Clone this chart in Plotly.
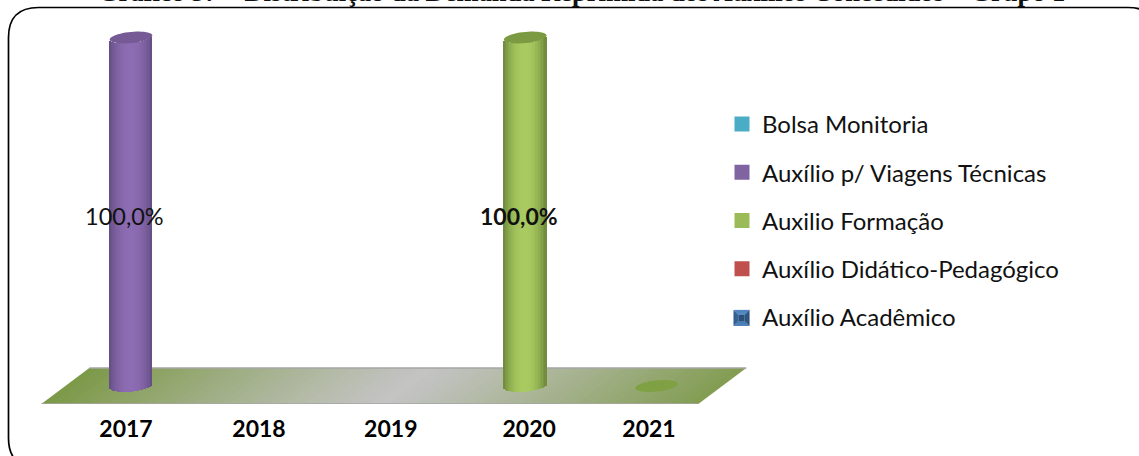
import math
import plotly.graph_objects as go

# ---- data ----
years = [2017, 2018, 2019, 2020, 2021]
bolsa_monitoria = [None, None, None, None, None]
viagens_tecnicas = [100, None, None, None, None]
auxilio_formacao = [None, None, None, 100, 0]
didatico_pedagogico = [None, None, None, None, None]
auxilio_academico = [None, None, None, None, None]
title_text = "Gráfico 37 – Distribuição da Demanda Reprimida dos Auxílios Concedidos – Grupo 1"
label_100 = "100,0%"

# ---- style ----
FONT = "Lato"
series = [
    ("Bolsa Monitoria", bolsa_monitoria, "#4bacc6", None),
    ("Auxílio p/ Viagens Técnicas", viagens_tecnicas, "#8064a2", ((0x64, 0x4e, 0x82), (0x8c, 0x6c, 0xb2), "#755a95", "#755a95")),
    ("Auxilio Formação", auxilio_formacao, "#9bbb59", ((0x6c, 0x88, 0x3a), (0xa8, 0xca, 0x60), "#7b9a42", "#80a044")),
    ("Auxílio Didático-Pedagógico", didatico_pedagogico, "#c0504d", None),
    ("Auxílio Acadêmico", auxilio_academico, "rgba(63,111,163,0.25)", None),
]
YSCALE = 3.485        # px per value unit
XSCALE = 131.4        # px per year
HALF_W = 21.3 / XSCALE
RY = 5.6 / YSCALE
TILT = 2.0 / YSCALE
SKEW = 24 / XSCALE
FLOOR_H = 18 / YSCALE
N = 28


def mix(a, b, f):
    return "rgb(%d,%d,%d)" % tuple(round(a[i] + (b[i] - a[i]) * f) for i in range(3))


def rim(t, sign):
    return sign * RY * math.sqrt(max(0, 1 - t * t)) + TILT * t


def ellipse_path(cx, cy):
    pts = []
    for i in range(48):
        a = 2 * math.pi * i / 48
        t = math.cos(a)
        pts.append((cx + HALF_W * t, cy + RY * math.sin(a) + TILT * t))
    return "M" + "L".join(f"{x:.4f},{y:.4f}" for x, y in pts) + "Z"


fig = go.Figure()
shapes = []

# floor
x0, x1 = years[0] - 0.5, years[-1] + 0.5
grey, green = (0xc4, 0xc4, 0xc4), (0x7c, 0x99, 0x47)
FL = 70
for i in range(FL):
    a = x0 + (x1 - x0) * i / FL
    b = min(x0 + (x1 - x0) * (i + 1.3) / FL, x1)
    f = min(1, (abs((i + 0.5) / FL - 0.52) / 0.52) ** 1.1)
    shapes.append(dict(type="path", layer="below", xref="x", yref="y",
                       path=f"M{a-SKEW},{-FLOOR_H}L{b-SKEW},{-FLOOR_H}L{b+SKEW},{FLOOR_H}L{a+SKEW},{FLOOR_H}Z",
                       fillcolor=mix(grey, green, f), line=dict(width=0)))
for yy, sk in ((-FLOOR_H, -SKEW), (FLOOR_H, SKEW)):
    shapes.append(dict(type="line", layer="below", xref="x", yref="y", x0=x0 + sk, x1=x1 + sk, y0=yy, y1=yy,
                       line=dict(color="#a6a6a6", width=1.5)))

# legend-carrying bars (zero values have no body, only the flat base ellipse below)
for name, vals, color, grad in series:
    fig.add_trace(go.Bar(x=years, y=[v or None for v in vals], name=name, width=0.1, legendgroup=name,
                         marker=dict(color=color, line=dict(color=color, width=3)),
                         hoverinfo="skip"))

# cylinders drawn from values
annotations = []
for name, vals, color, grad in series:
    if grad is None:
        continue
    for yr, v in zip(years, vals):
        if v is None:
            continue
        if v == 0:
            shapes.append(dict(type="path", layer="below", xref="x", yref="y",
                               path=ellipse_path(yr, 0), fillcolor=grad[3], line=dict(width=0)))
            continue
        xs, bases, heights, cols = [], [], [], []
        w = 2 * HALF_W / N
        for i in range(N):
            t = (i + 0.5) / N * 2 - 1
            lo = rim(t, -1)
            hi = v + rim(t, -1)
            xs.append(yr + t * HALF_W)
            bases.append(lo)
            heights.append(hi - lo)
            cols.append(mix(grad[0], grad[1], 1 - abs(t) ** 2.2))
        fig.add_trace(go.Bar(x=xs, y=heights, base=bases, width=w * 1.15, showlegend=False,
                             marker=dict(color=cols, line=dict(width=0)), hoverinfo="skip"))
        shapes.append(dict(type="path", layer="above", xref="x", yref="y",
                           path=ellipse_path(yr, v), fillcolor=grad[2], line=dict(width=0)))

annotations.append(dict(x=years[0], y=viagens_tecnicas[0] / 2, text=label_100, showarrow=False, xshift=-7, yshift=-4,
                        font=dict(family=FONT, size=23.5, color="#111")))
annotations.append(dict(x=years[3], y=auxilio_formacao[3] / 2, text=f"<b>{label_100}</b>", showarrow=False, xshift=-6, yshift=-4,
                        font=dict(family=FONT, size=23, color="#111")))
# title (cut by the top of the page in the source)
annotations.append(dict(xref="paper", yref="paper", x=581 / 1139, y=1, yanchor="bottom", showarrow=False,
                        text=f"<b>{title_text}</b>", yshift=-9,
                        font=dict(family="Liberation Serif", size=26.5, color="#111")))


def px(x): return x / 1139
def py(y): return 1 - y / 404


# bevelled look of the last legend swatch, seen through its translucent key
bx0, bx1, by0, by1, m = 733.5, 749.5, 310, 326, 5
bev = [((bx0, by0), (bx1, by0), (bx1 - m, by0 + m), (bx0 + m, by0 + m), "#5c93cf"),
       ((bx0, by1), (bx1, by1), (bx1 - m, by1 - m), (bx0 + m, by1 - m), "#4f83bd"),
       ((bx0, by0), (bx0 + m, by0 + m), (bx0 + m, by1 - m), (bx0, by1), "#2f5a8c"),
       ((bx1, by0), (bx1 - m, by0 + m), (bx1 - m, by1 - m), (bx1, by1), "#25486f"),
       ((bx0 + m, by0 + m), (bx1 - m, by0 + m), (bx1 - m, by1 - m), (bx0 + m, by1 - m), "#23456b")]
for *pts, c in bev:
    shapes.append(dict(type="path", layer="above", xref="paper", yref="paper", fillcolor=c, line=dict(width=0),
                       path="M" + "L".join(f"{px(a)},{py(b)}" for a, b in pts) + "Z"))

# rounded frame, running off the right and bottom of the page
L, T, R, B, r = 8.5, 7.5, 1158, 468, 30
shapes.append(dict(type="path", layer="above", xref="paper", yref="paper",
                   path=(f"M{px(L+r)},{py(T)}L{px(R-r)},{py(T)}Q{px(R)},{py(T)} {px(R)},{py(T+r)}"
                         f"L{px(R)},{py(B-r)}Q{px(R)},{py(B)} {px(R-r)},{py(B)}"
                         f"L{px(L+r)},{py(B)}Q{px(L)},{py(B)} {px(L)},{py(B-r)}"
                         f"L{px(L)},{py(T+r)}Q{px(L)},{py(T)} {px(L+r)},{py(T)}Z"),
                   line=dict(color="#000", width=1.7), fillcolor="rgba(0,0,0,0)"))

# tick-label nudges in px (labels sit off the bars in the source's perspective)
nudge = [-5, -3.4, -3, 4, -7.6]

fig.update_layout(
    width=1139, height=456,
    margin=dict(l=0, r=0, t=0, b=52),
    paper_bgcolor="white", plot_bgcolor="white",
    barmode="overlay", bargap=0,
    shapes=shapes, annotations=annotations,
    xaxis=dict(range=[years[0] - 131 / XSCALE, years[0] + (1139 - 131) / XSCALE], showgrid=False, zeroline=False,
               showline=False, tickmode="array", tickvals=[y + n / XSCALE for y, n in zip(years, nudge)],
               ticktext=[str(y) for y in years], ticks="outside", ticklen=4, tickcolor="rgba(0,0,0,0)",
               tickfont=dict(family=FONT, size=23, color="#000", weight="bold")),
    yaxis=dict(range=[-18 / YSCALE, 386 / YSCALE], showgrid=False, zeroline=False, showline=False, showticklabels=False),
    legend=dict(x=722 / 1139, y=1 - 102 / 404, xanchor="left", yanchor="top", traceorder="grouped", tracegroupgap=14,
                font=dict(family=FONT, size=24, color="#111"), bgcolor="rgba(0,0,0,0)"),
    showlegend=True,
)
fig.write_html("out.html", config=dict(displayModeBar=False),
               post_script="document.body.style.margin='0';document.documentElement.style.overflow='hidden';")
